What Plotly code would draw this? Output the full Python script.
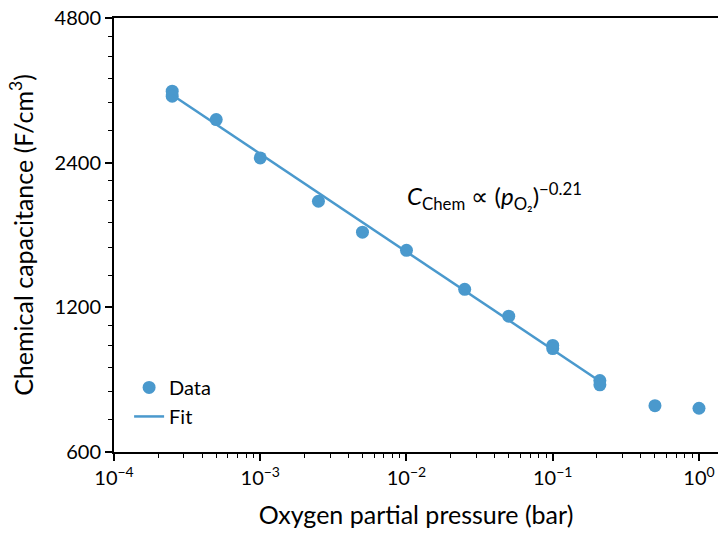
import plotly.graph_objects as go

# ---- data ----
pressure = [2.5e-4, 2.5e-4, 5e-4, 1e-3, 2.5e-3, 5e-3, 1e-2, 2.5e-2, 5e-2, 1e-1, 1e-1, 0.21, 0.21, 0.5, 1.0]
capacitance = [3380, 3300, 2950, 2455, 1995, 1720, 1577, 1308, 1150, 1000, 985, 845, 828, 749, 740]
fit_x = [2.5e-4, 0.21]
fit_y = [3320, 842]

x_major = [1e-4, 1e-3, 1e-2, 1e-1, 1]
x_major_text = ["10<sup>−4</sup>", "10<sup>−3</sup>", "10<sup>−2</sup>", "10<sup>−1</sup>", "10<sup>0</sup>"]
x_minor = [m * d for d in [1e-4, 1e-3, 1e-2, 1e-1, 1] for m in range(2, 10)]
y_major = [600, 1200, 2400, 4800]
y_minor = [700, 800, 900, 1000, 1100, 1400, 1600, 1800, 2000, 2200, 2800, 3200, 3600, 4000, 4400]

color = "#4a99cd"
FONT = "Lato"

fig = go.Figure()
fig.add_trace(go.Scatter(x=pressure, y=capacitance, mode="markers", name="Data",
                         marker=dict(color=color, size=13)))
fig.add_trace(go.Scatter(x=fit_x, y=fit_y, mode="lines", name="Fit",
                         line=dict(color=color, width=2.5)))

fig.add_annotation(x=0.63, y=0.59, xref="paper", yref="paper",
                   text="<i>C</i><sub>Chem</sub> ∝ (<i>p</i><sub>O₂</sub>)<sup>−0.21</sup>",
                   showarrow=False, font=dict(family=FONT, size=24, color="black"),
                   xanchor="center", yanchor="middle")

fig.update_layout(
    width=718, height=534,
    margin=dict(l=114, r=0, t=18, b=82),
    plot_bgcolor="white", paper_bgcolor="white",
    font=dict(family=FONT, size=20, color="black"),
    showlegend=True,
    legend=dict(x=0.025, y=0.037, xanchor="left", yanchor="bottom",
                bgcolor="rgba(0,0,0,0)", font=dict(size=20), itemwidth=30),
    xaxis=dict(type="log", range=[-4, 0.13], showgrid=False, zeroline=False,
               showline=True, linewidth=2, linecolor="black", mirror=True,
               ticks="outside", ticklen=7, tickwidth=1.6, tickcolor="black",
               tickmode="array", tickvals=x_major, ticktext=x_major_text,
               tickfont=dict(size=20),
               minor=dict(tickmode="array", tickvals=x_minor, ticks="outside",
                          ticklen=4, tickwidth=1.2, tickcolor="black", showgrid=False),
               title=dict(text="Oxygen partial pressure (bar)", font=dict(size=25), standoff=18)),
    yaxis=dict(type="log", range=[2.77815, 3.68124], showgrid=False, zeroline=False,
               showline=True, linewidth=2, linecolor="black", mirror=False,
               ticks="outside", ticklen=7, tickwidth=1.6, tickcolor="black",
               tickmode="array", tickvals=y_major, ticktext=[str(v) for v in y_major],
               tickfont=dict(size=20),
               minor=dict(tickmode="array", tickvals=y_minor, ticks="outside",
                          ticklen=4, tickwidth=1.2, tickcolor="black", showgrid=False),
               title=dict(text="Chemical capacitance (F/cm<sup>3</sup>)", font=dict(size=25), standoff=14)),
)

fig.write_html("out.html")
